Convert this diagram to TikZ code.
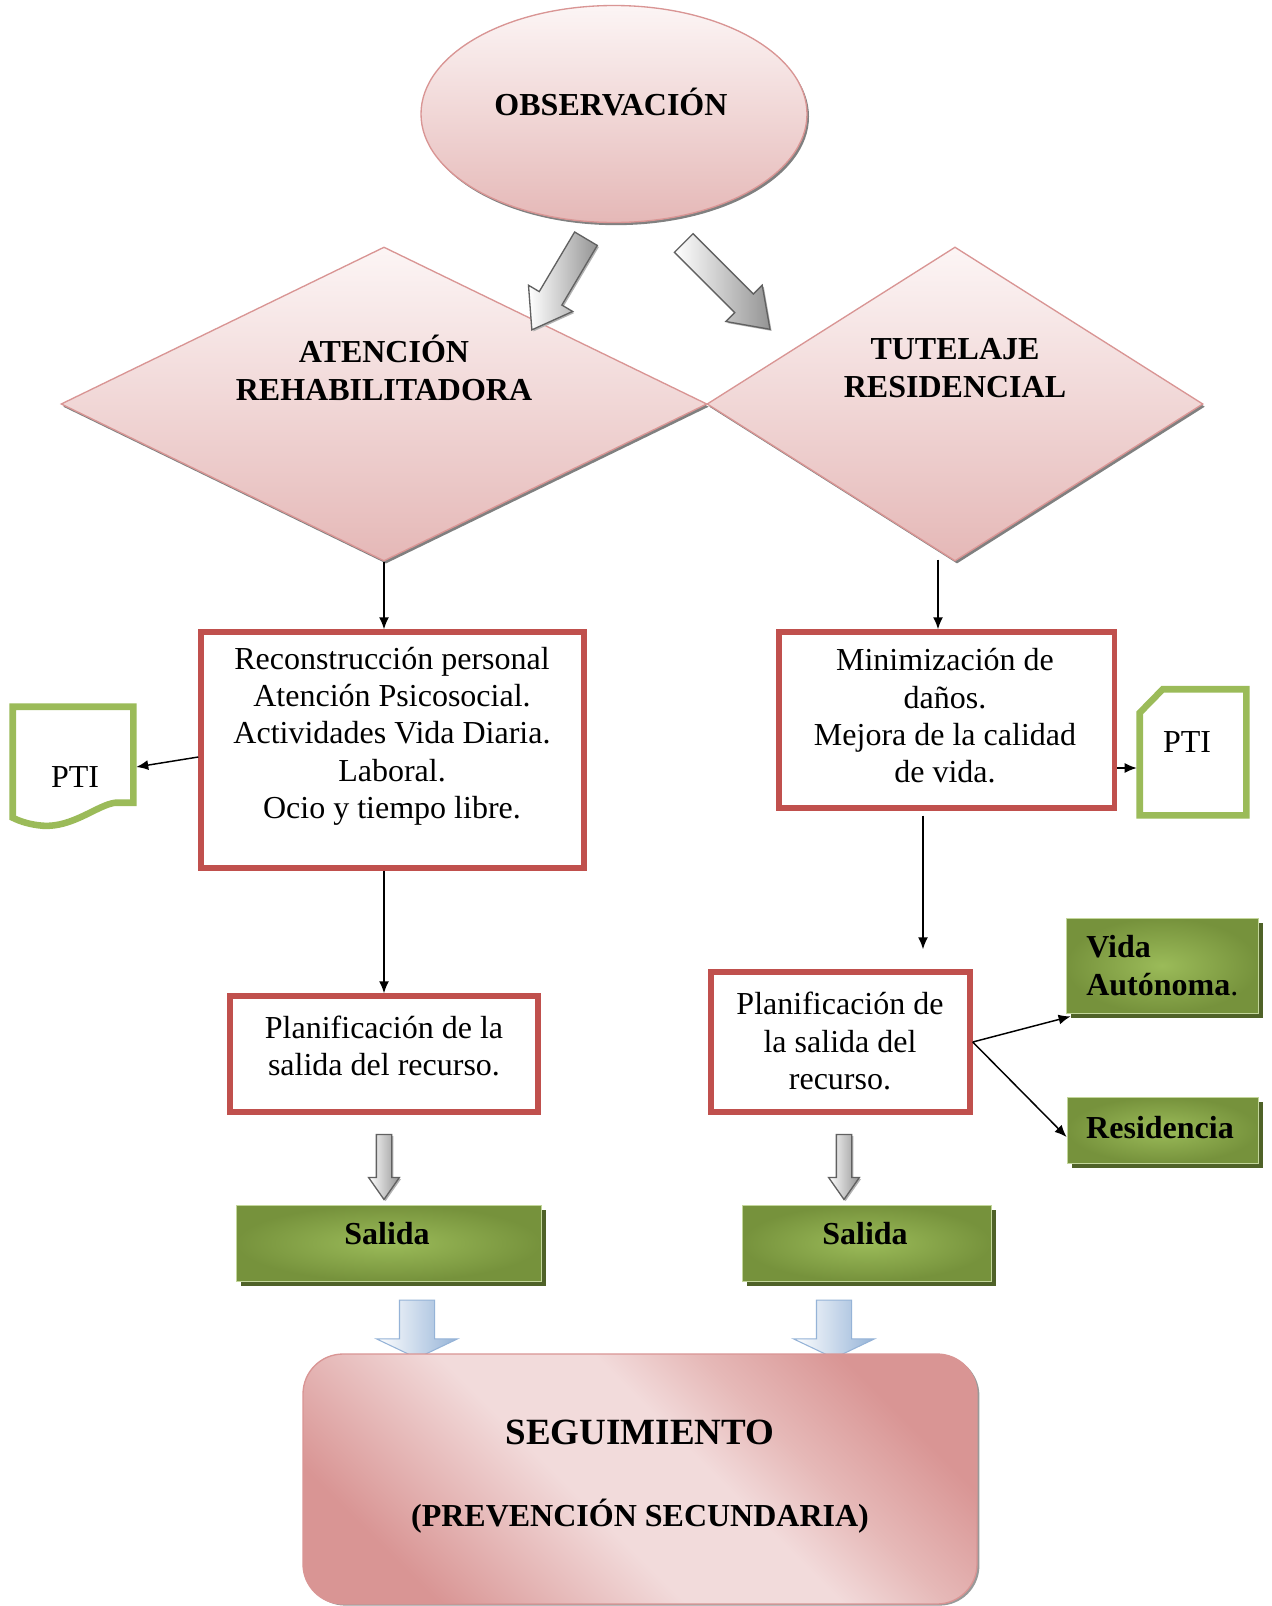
\documentclass[tikz,border=0pt]{standalone}
\usepackage{fontspec}
\setmainfont{Liberation Serif}
\usetikzlibrary{shapes.geometric,shapes.arrows,shadows,calc,arrows.meta}
\definecolor{pinkTop}{HTML}{FCF5F5}
\definecolor{pinkBot}{HTML}{E5B8B7}
\definecolor{roseB}{HTML}{D99594}
\definecolor{redB}{HTML}{C0504D}
\definecolor{greenB}{HTML}{9BBB59}
\definecolor{greenD}{HTML}{76923C}
\definecolor{greenS}{HTML}{4F6228}
\definecolor{segL}{HTML}{F2DBDB}
\definecolor{segM}{HTML}{E6B9B8}
\definecolor{blueB}{HTML}{95B3D7}
\newcommand\pxu{0.75pt}
\pgfdeclarehorizontalshading{segshade}{100bp}{color(0bp)=(roseB); color(25bp)=(roseB); color(44bp)=(segL); color(56bp)=(segL); color(64bp)=(segM); color(75bp)=(roseB); color(100bp)=(roseB)}
\tikzset{
  pinkshape/.style={draw=roseB, line width=1pt, top color=pinkTop, bottom color=pinkBot, inner sep=0pt,
    general shadow={fill=black!50, shadow xshift=1.5pt, shadow yshift=-2pt}},
  redbox/.style={rectangle, draw=redB, line width=4.1pt, inner sep=0pt},
  ptiline/.style={draw=greenB, line width=4.9pt, line join=miter},
  anchorbox/.style={rectangle, inner sep=0pt},
  greenbox/.style={rectangle, inner sep=0pt, inner color=greenB, outer color=greenD,
    draw=greenB!60!white, line width=0.6pt,
    general shadow={fill=greenS, shadow xshift=3.6pt, shadow yshift=-3.6pt}},
  txt/.style={font=\fontsize{24}{28}\selectfont, align=center, inner sep=0pt},
  btxt/.style={font=\fontsize{24}{28.5}\selectfont\bfseries, align=center, inner sep=0pt},
  conn/.style={line width=1.1pt, -{Latex[length=9pt,width=7.5pt]}},
  grayarrow/.style={single arrow, draw=black!62, line width=1pt, left color=white, right color=black!42,
    inner xsep=0pt, single arrow tip angle=70,
    general shadow={fill=black!30, shadow xshift=1.2pt, shadow yshift=-1.2pt}},
  bluearrow/.style={single arrow, draw=blueB, line width=0.8pt, left color=white, right color=blueB,
    inner xsep=0pt, single arrow tip angle=129},
}
\begin{document}
\begin{tikzpicture}[x=0.75pt,y=-0.75pt]
\useasboundingbox (0,0) rectangle (1271,1606);
\fill[white] (0,0) rectangle (1271,1606);

% top ellipse
\node[pinkshape, ellipse, minimum width=386*\pxu, minimum height=217*\pxu] (obs) at (614,114) {};
\node[btxt] (obst) at (611,102) {OBSERVACIÓN};

% diamonds
\node[pinkshape, diamond, minimum width=646*\pxu, minimum height=314*\pxu] (ld) at (384,404) {};
\node[pinkshape, diamond, minimum width=496*\pxu, minimum height=314*\pxu] (rd) at (955,404) {};
\node[btxt] (ldt) at (384,368) {ATENCIÓN\\REHABILITADORA};
\node[btxt] (rdt) at (955,368) {TUTELAJE\\RESIDENCIAL};

% big block arrows
\node[grayarrow, minimum height=106*\pxu, inner ysep=12.5*\pxu, single arrow head extend=12.5*\pxu, rotate=-120.7] (ga1) at (563.7,276.2) {};
\node[grayarrow, minimum height=122*\pxu, inner ysep=12.5*\pxu, single arrow head extend=12.5*\pxu, rotate=-45] (ga2) at (720.2,279.5) {};

% red boxes
\node[redbox, minimum width=383*\pxu, minimum height=236*\pxu] (lbox) at (392.5,750) {};
\node[txt] (lboxt) at (392,736) {Reconstrucción personal\\Atención Psicosocial.\\Actividades Vida Diaria.\\Laboral.\\Ocio y tiempo libre.};
\node[redbox, minimum width=335.5*\pxu, minimum height=176*\pxu] (rbox) at (946.7,720) {};
\node[txt] (rboxt) at (945,716) {Minimización de\\daños.\\Mejora de la calidad\\de vida.};
\node[redbox, minimum width=308*\pxu, minimum height=116*\pxu] (lplan) at (384,1054) {};
\node[txt] (lplant) at (384,1046) {Planificación de la\\salida del recurso.};
\node[redbox, minimum width=259*\pxu, minimum height=140*\pxu] (rplan) at (840.5,1042) {};
\node[txt] (rplant) at (840,1041) {Planificación de\\la salida del\\recurso.};

% PTI documents
\node[anchorbox, minimum width=120*\pxu, minimum height=113*\pxu] (pti1) at (73,763.5) {};
\draw[ptiline] (pti1.north west) -- (pti1.north east) -- ($(pti1.north east)+(0,96)$)
  -- ($(pti1.north east)+(-18,96)$)
  .. controls ($(pti1.north west)+(85,98)$) and ($(pti1.north west)+(60,121)$) .. ($(pti1.north west)+(30,119)$)
  .. controls ($(pti1.north west)+(18,118)$) and ($(pti1.north west)+(8,115)$) .. ($(pti1.north west)+(0,111)$)
  -- cycle;
\node[txt] (pti1t) at (75,777) {PTI};
\node[anchorbox, minimum width=106*\pxu, minimum height=125.5*\pxu] (pti2) at (1193,752.25) {};
\draw[ptiline] ($(pti2.north west)+(0,23.5)$) -- ($(pti2.north west)+(23,0)$) -- (pti2.north east)
  -- (pti2.south east) -- (pti2.south west) -- cycle;
\node[txt] (pti2t) at (1187,742) {PTI};

% green boxes
\node[greenbox, minimum width=192*\pxu, minimum height=95*\pxu] (vida) at (1162,965.5) {};
\node[btxt, anchor=west, align=left] (vidat) at (1086,966) {Vida\\Autónoma\mdseries.};
\node[greenbox, minimum width=191*\pxu, minimum height=66*\pxu] (resid) at (1162.5,1130) {};
\node[btxt] (residt) at (1160,1128) {Residencia};
\node[greenbox, minimum width=305*\pxu, minimum height=76*\pxu] (sal1) at (388.5,1243) {};
\node[btxt] (sal1t) at (387,1234) {Salida};
\node[greenbox, minimum width=249*\pxu, minimum height=76*\pxu] (sal2) at (866.5,1243) {};
\node[btxt] (sal2t) at (865,1234) {Salida};

% small block arrows
\node[grayarrow, minimum height=65*\pxu, inner ysep=7*\pxu, single arrow head extend=7.75*\pxu, rotate=-90] (gs1) at (384,1161.5) {};
\node[grayarrow, minimum height=65*\pxu, inner ysep=7*\pxu, single arrow head extend=7.75*\pxu, rotate=-90] (gs2) at (844,1161.5) {};
\node[bluearrow, minimum height=58*\pxu, inner ysep=17*\pxu, single arrow head extend=23*\pxu, rotate=-90] (ba1) at (417,1325) {};
\node[bluearrow, minimum height=58*\pxu, inner ysep=17*\pxu, single arrow head extend=23*\pxu, rotate=-90] (ba2) at (834,1325) {};

% seguimiento
\node[rectangle, rounded corners=30pt, draw=roseB, line width=1pt, shading=segshade, shading angle=45,
  minimum width=674*\pxu, minimum height=250*\pxu, inner sep=0pt,
  general shadow={fill=black!40, shadow xshift=1.8pt, shadow yshift=-1.2pt}] (seg) at (640,1479) {};
\node[btxt, font=\fontsize{27.75}{30}\selectfont\bfseries] (segt1) at (640,1432) {SEGUIMIENTO};
\node[btxt] (segt2) at (640,1516) {(PREVENCIÓN SECUNDARIA)};

% connectors
\draw[conn] (ld.south) -- (ld.south |- lbox.north);
\coordinate (rdarrow) at ($(rd.south)+(-17,-2)$);
\draw[conn] (rdarrow) -- (rdarrow |- rbox.north);
\draw[conn] ($(lbox.west)+(0,7)$) -- ($(pti1.east)+(3,3.5)$);
\draw[conn] ($(rbox.east)+(0,48)$) -- ($(pti2.west)+(-3,15.75)$);
\draw[conn] (ld.south |- lbox.south) -- (ld.south |- lplan.north);
\coordinate (rbarrow) at ($(rbox.south)+(-23.7,5)$);
\draw[conn] (rbarrow) -- ($(rbarrow |- rplan.north)+(0,-20)$);
\draw[conn] (rplan.east) -- ($(vida.south west)+(5,3)$);
\draw[conn] (rplan.east) -- ($(resid.west)+(0,7)$);
\end{tikzpicture}
\end{document}
